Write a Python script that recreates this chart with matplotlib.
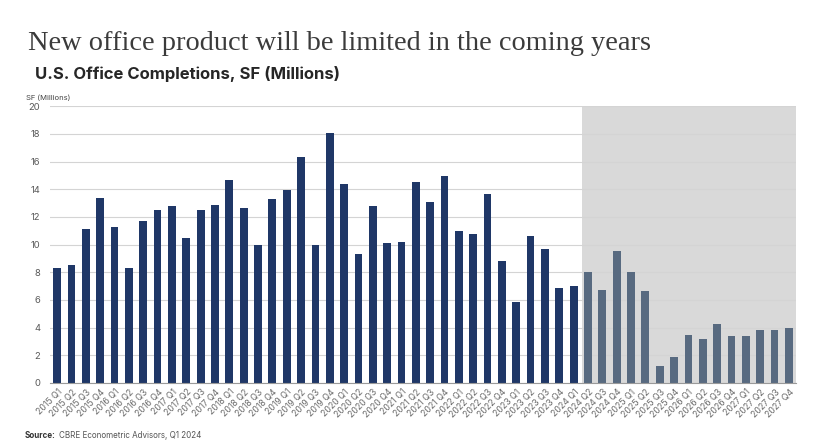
import numpy as np
import matplotlib
matplotlib.use("Agg")
import matplotlib.pyplot as plt

plt.rcParams.update({"font.family": ["Inter", "DejaVu Sans"], "figure.dpi": 100})

years = range(2015, 2028)
quarters = [f"{y} Q{q}" for y in years for q in range(1, 5)]

# U.S. office completions, SF millions (2015 Q1 .. 2024 Q1 actual)
actual = [8.3, 8.5, 11.1, 13.4, 11.3, 8.3, 11.7, 12.5, 12.8, 10.5,
          12.5, 12.85, 14.7, 12.65, 10.0, 13.3, 13.95, 16.3, 9.95, 18.1,
          14.4, 9.35, 12.8, 10.1, 10.2, 14.5, 13.05, 14.95, 11.0, 10.75,
          13.65, 8.85, 5.85, 10.65, 9.7, 6.85, 7.0]
# forecast 2024 Q2 .. 2027 Q4
forecast = [8.05, 6.7, 9.55, 8.05, 6.65, 1.25, 1.85, 3.5, 3.15, 4.3,
            3.4, 3.4, 3.85, 3.8, 3.95]

NAVY = "#1f3767"
SLATE = "#586a80"
SHADE = "#d9d9d9"

fig = plt.figure(figsize=(8.3, 4.41))
ax = fig.add_axes([50 / 830, 1 - 383 / 441, 746 / 830, (383 - 106.3) / 441])

n_act = len(actual)
x = np.arange(len(quarters))
ax.axvspan(n_act - 0.4, len(quarters) - 0.5, ymin=0, ymax=1, color=SHADE, lw=0, zorder=0)
ax.bar(x[:n_act], actual, width=0.54, color=NAVY, zorder=2)
ax.bar(x[n_act:], forecast, width=0.54, color=SLATE, zorder=2)

ax.set_xlim(-0.5, len(quarters) - 0.5)
ax.set_ylim(0, 20)
ax.set_yticks(range(0, 21, 2))
ax.yaxis.grid(True, color="#d4d4d4", lw=0.8, zorder=1)
ax.set_axisbelow(True)
for s in ["top", "right", "left"]:
    ax.spines[s].set_visible(False)
ax.spines["bottom"].set_color("#9a9a9a")
ax.tick_params(axis="y", length=0, labelsize=6.8, labelcolor="#5a5a5a", pad=7)
ax.tick_params(axis="x", length=0, labelsize=6.3, labelcolor="#6a6a6a", pad=3)
ax.set_xticks(x)
ax.set_xticklabels(quarters, rotation=45, ha="right", rotation_mode="anchor")

fig.text(28 / 830, 1 - 50 / 441, "New office product will be limited in the coming years",
         family=["Liberation Serif"], fontsize=20.4, color="#3b3b3b")
fig.text(35 / 830, 1 - 79 / 441, "U.S. Office Completions, SF (Millions)",
         fontsize=12, weight="bold", color="#262626")
fig.text(26 / 830, 1 - 100 / 441, "SF (Millions)", fontsize=5.5, color="#444444")
src = fig.text(25 / 830, 1 - 438 / 441, "Source:", fontsize=5.8, weight="bold", color="#333333")
fig.canvas.draw()
bb = src.get_window_extent()
fig.text((bb.x1 + 3) / 830, 1 - 438 / 441, "CBRE Econometric Advisors, Q1 2024", fontsize=5.8,
         color="#555555")

fig.savefig("out.png", dpi=100)
